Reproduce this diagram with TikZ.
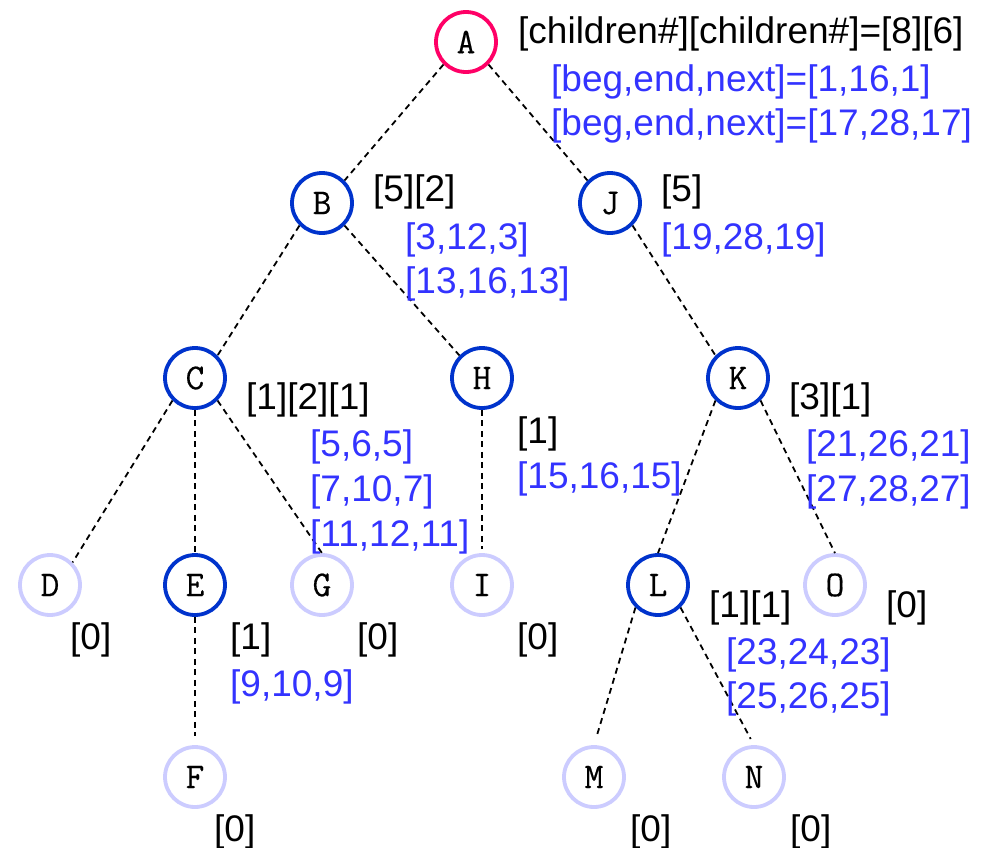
\documentclass[tikz,border=0pt]{standalone}
\usepackage{fontspec}
\setmainfont{Liberation Sans}
\newfontfamily\nodefont[FakeBold=0.4,Scale=1.3]{Latin Modern Mono}
\definecolor{rootc}{HTML}{FF0066}
\definecolor{nodeb}{HTML}{0033CC}
\definecolor{leafc}{HTML}{CCCCFF}
\definecolor{txtb}{HTML}{3333FF}
\begin{document}
\begin{tikzpicture}[x=1pt,y=-1pt,
  tnode/.style={circle,minimum size=60pt,inner sep=0pt,line width=3.8pt,fill=white,font=\nodefont\fontsize{28}{28}\selectfont},
  rootn/.style={tnode,draw=rootc},
  midn/.style={tnode,draw=nodeb},
  leafn/.style={tnode,draw=leafc},
  edge/.style={draw=black,dash pattern=on 6pt off 4.5pt,line width=1.8pt},
  lbl/.style={anchor=base west,inner sep=0pt,font=\fontsize{37}{44}\selectfont,text=black},
  blbl/.style={lbl,text=txtb}]
\useasboundingbox (0,0) rectangle (988,847);
% nodes
\node[rootn] (A) at (466,42) {A};
\node[midn] (B) at (322,203) {B};
\node[midn] (J) at (610,203) {J};
\node[midn] (C) at (195,378) {C};
\node[midn] (H) at (482,378) {H};
\node[midn] (K) at (738,378) {K};
\node[leafn] (D) at (50,585) {D};
\node[midn] (E) at (195,585) {E};
\node[leafn] (G) at (322,585) {G};
\node[leafn] (I) at (482,585) {I};
\node[midn] (L) at (658,585) {L};
\node[leafn] (O) at (835,585) {O};
\node[leafn] (F) at (195,777) {F};
\node[leafn] (M) at (594,777) {M};
\node[leafn] (N) at (754,777) {N};
% edges
\draw[edge] (A.south west) -- (B.north east);
\draw[edge] (A.south east) -- (J.north west);
\draw[edge] (B.south west) -- (C.north east);
\draw[edge] (B.south east) -- (H.north west);
\draw[edge] (J.south east) -- (K.north west);
\draw[edge] (C.south west) -- (D.north east);
\draw[edge] (C.south) -- (E.north);
\draw[edge] (C.south east) -- (G.north);
\draw[edge,shorten >=4pt] (H.south) -- (I.north);
\draw[edge] (K.south west) -- (L.north);
\draw[edge] (K.south east) -- (O.north);
\draw[edge,shorten >=9pt] (E.south) -- (F.north);
\draw[edge,shorten >=9pt] (L.south west) -- (M.north);
\draw[edge,shorten >=7pt] (L.south east) -- (N.north);
% labels
\node[lbl] (tA1) at (518,43) {[children\#][children\#]=[8][6]};
\node[blbl] (tA2) at (551,91) {[beg,end,next]=[1,16,1]};
\node[blbl] (tA3) at (551,135) {[beg,end,next]=[17,28,17]};
\node[lbl] (tB1) at (373,201) {[5][2]};
\node[blbl] (tB2) at (405,249) {[3,12,3]};
\node[blbl] (tB3) at (405,293) {[13,16,13]};
\node[lbl] (tJ1) at (661,201) {[5]};
\node[blbl] (tJ2) at (661,249) {[19,28,19]};
\node[lbl] (tC1) at (246,409) {[1][2][1]};
\node[blbl] (tC2) at (310,456) {[5,6,5]};
\node[blbl] (tC3) at (310,501) {[7,10,7]};
\node[blbl] (tC4) at (310,546) {[11,12,11]};
\node[lbl] (tH1) at (517,443) {[1]};
\node[blbl] (tH2) at (517,488) {[15,16,15]};
\node[lbl] (tK1) at (789,409) {[3][1]};
\node[blbl] (tK2) at (806,456) {[21,26,21]};
\node[blbl] (tK3) at (806,501) {[27,28,27]};
\node[lbl] (tD) at (70,649) {[0]};
\node[lbl] (tE1) at (230,649) {[1]};
\node[blbl] (tE2) at (230,696) {[9,10,9]};
\node[lbl] (tG) at (357,649) {[0]};
\node[lbl] (tI) at (517,649) {[0]};
\node[lbl] (tL1) at (709,617) {[1][1]};
\node[blbl] (tL2) at (726,664) {[23,24,23]};
\node[blbl] (tL3) at (726,708) {[25,26,25]};
\node[lbl] (tO) at (886,617) {[0]};
\node[lbl] (tF) at (214,841) {[0]};
\node[lbl] (tM) at (630,841) {[0]};
\node[lbl] (tN) at (790,841) {[0]};
\end{tikzpicture}
\end{document}
